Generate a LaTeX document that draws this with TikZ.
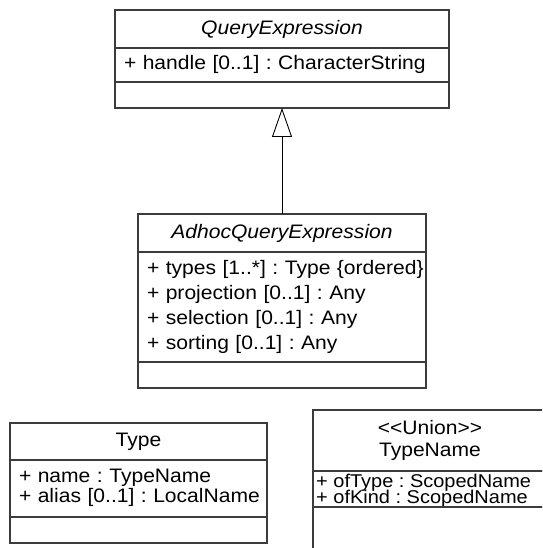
\documentclass[tikz,border=0pt]{standalone}
\usepackage{fontspec}
\setmainfont{Liberation Sans}[FakeStretch=1.08]
\usetikzlibrary{positioning,arrows.meta}
\definecolor{umlgray}{RGB}{60,60,60}
\newcommand{\umlattrs}[1]{\begin{tabular}{@{}l@{}}#1\end{tabular}}

\begin{document}
\frenchspacing
\begin{tikzpicture}[
  x=1pt, y=1pt,
  font=\fontsize{19.5}{22}\selectfont,
  umlbox/.style={draw=umlgray, line width=1.2pt, inner xsep=9pt, inner ysep=0pt, outer sep=0pt, minimum height=#1},
  classname/.style={umlbox=#1, align=center},
  attrlist/.style={umlbox=#1, align=left},
  attrtext/.style={inner sep=0pt, anchor=base west, font=\fontsize{18.5}{16}\selectfont},
  generalize/.style={-{Triangle[open, length=29pt, width=20pt]}, line width=0.9pt}
]
  \useasboundingbox (0,0) rectangle (542,-548);
  \clip (0,0) rectangle (542,-548);

  % QueryExpression
  \node[classname=38pt, text width=316pt, anchor=north] (query) at (282,-10) {\textit{QueryExpression}};
  \node[attrlist=34pt, text width=316pt, below=0pt of query] (queryattr) {\umlattrs{+ handle [0..1] : CharacterString}};
  \node[umlbox=26pt, text width=316pt, below=0pt of queryattr] (queryops) {};

  % AdhocQueryExpression
  \node[classname=38pt, text width=270pt, anchor=north] (adhoc) at (282,-214) {\textit{AdhocQueryExpression}};
  \node[attrlist=110pt, text width=270pt, below=0pt of adhoc, font=\fontsize{19.5}{25}\selectfont] (adhocattr)
    {\umlattrs{+ types [1..*] : Type \{ordered\}\\
     + projection [0..1] : Any\\
     + selection [0..1] : Any\\
     + sorting [0..1] : Any}};
  \node[umlbox=26pt, text width=270pt, below=0pt of adhocattr] (adhocops) {};

  % Type
  \node[classname=37pt, text width=239pt, anchor=north] (type) at (138.5,-423) {Type};
  \node[attrlist=57pt, text width=239pt, below=0pt of type, font=\fontsize{19.5}{20.5}\selectfont] (typeattr)
    {\umlattrs{+ name : TypeName\\
     + alias [0..1] : LocalName}};
  \node[umlbox=26pt, text width=239pt, below=0pt of typeattr] (typeops) {};

  % TypeName (union)
  \node[classname=61pt, text width=216pt, anchor=north, font=\fontsize{19.5}{22}\selectfont] (typename) at (430,-410)
    {<{}<Union>{}>\\TypeName};
  \node[umlbox=36pt, text width=216pt, below=0pt of typename] (typenameattr) {};
  \node[attrtext] (typenametype) at ([xshift=3pt, yshift=20pt]typenameattr.south west) {+ ofType : ScopedName};
  \node[attrtext] (typenamekind) at ([xshift=3pt, yshift=4pt]typenameattr.south west) {+ ofKind : ScopedName};
  \node[umlbox=45pt, text width=216pt, below=0pt of typenameattr] (typenameops) {};

  % Generalization
  \draw[generalize] (adhoc.north) -- (queryops.south);
\end{tikzpicture}
\end{document}
